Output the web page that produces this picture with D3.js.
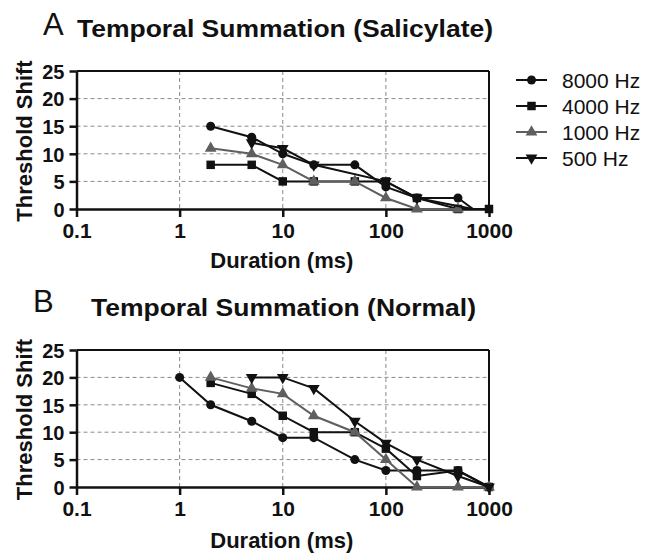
<!DOCTYPE html>
<html><head><meta charset="utf-8">
<script src="https://cdn.jsdelivr.net/npm/d3@7"></script>
<style>
html,body{margin:0;padding:0;background:#fff;}
text{font-family:"Liberation Sans",Arial,sans-serif;}
</style></head>
<body>
<svg id="c" width="648" height="554"></svg>
<script>
// ---------- data ----------
const seriesNames = ["8000 Hz", "4000 Hz", "1000 Hz", "500 Hz"];
const seriesShapes = ["circle", "square", "triangle", "triangleDown"];
const seriesColors = ["#111", "#111", "#5f5f5f", "#111"];

const xTicks = [0.1, 1, 10, 100, 1000];
const xTickLabels = ["0.1", "1", "10", "100", "1000"];
const yTicks = [0, 5, 10, 15, 20, 25];
const xGrid = [1, 10, 100];
const yGrid = [5, 10, 15, 20];

// Panel A: Salicylate  [duration ms, threshold shift]
const salicylate8000 = [[2,15],[5,13],[10,10],[20,8],[50,8],[100,4],[200,2],[500,2],[700,0]];
const salicylate4000 = [[2,8],[5,8],[10,5],[20,5],[50,5],[100,5],[200,2],[500,0],[1000,0]];
const salicylate1000 = [[2,11],[5,10],[10,8],[20,5],[50,5],[100,2],[200,0],[500,0]];
const salicylate500  = [[5,12],[10,11],[20,8],[100,5],[200,2],[700,0]];

// Panel B: Normal
const normal8000 = [[1,20],[2,15],[5,12],[10,9],[20,9],[50,5],[100,3],[200,3],[500,3],[1000,0]];
const normal4000 = [[2,19],[5,17],[10,13],[20,10],[50,10],[100,7],[200,2],[500,3],[1000,0]];
const normal1000 = [[2,20],[5,18],[10,17],[20,13],[50,10],[100,5],[200,0],[500,0],[1000,0]];
const normal500  = [[5,20],[10,20],[20,18],[50,12],[100,8],[200,5],[500,2],[1000,0]];

const noMarkerX = [700]; // line ends without a marker

const panels = [
  {letter:"A", title:"Temporal Summation (Salicylate)", series:[salicylate8000, salicylate4000, salicylate1000, salicylate500],
   top:71, bottom:209, letterX:43, letterY:35, titleX:77, titleY:37, titleW:416, xLabelY:268},
  {letter:"B", title:"Temporal Summation (Normal)", series:[normal8000, normal4000, normal1000, normal500],
   top:350, bottom:487, letterX:33, letterY:312, titleX:91, titleY:316, titleW:385, xLabelY:548}
];

// ---------- drawing ----------
const svg = d3.select("#c");
const left = 76.5, right = 489;
const x = d3.scaleLog().domain([0.1, 1000]).range([left, right]);

function symbolPath(shape) {
  if (shape === "circle") return d3.symbol(d3.symbolCircle, 64)();
  if (shape === "square") return d3.symbol(d3.symbolSquare, 72)();
  return d3.symbol(d3.symbolTriangle, 60)();
}
function symbolTransform(shape, px, py) {
  return shape === "triangleDown" ? `translate(${px},${py}) rotate(180)` : `translate(${px},${py})`;
}

panels.forEach(p => {
  const y = d3.scaleLinear().domain([0, 25]).range([p.bottom, p.top]);
  const g = svg.append("g");

  // letter + title
  g.append("text").attr("x", p.letterX).attr("y", p.letterY).text(p.letter)
    .attr("font-family", "Lato, 'Open Sans', sans-serif").attr("font-weight", 300)
    .attr("font-size", 31).attr("fill", "#111");
  g.append("text").attr("x", p.titleX).attr("y", p.titleY).text(p.title)
    .attr("font-weight", "bold").attr("font-size", 24).attr("fill", "#111")
    .attr("textLength", p.titleW).attr("lengthAdjust", "spacingAndGlyphs");

  // grid
  g.selectAll(".gx").data(xGrid).enter().append("line")
    .attr("x1", d => x(d)).attr("x2", d => x(d)).attr("y1", p.top).attr("y2", p.bottom)
    .attr("stroke", "#8a8a8a").attr("stroke-width", 1).attr("stroke-dasharray", "4,3");
  g.selectAll(".gy").data(yGrid).enter().append("line")
    .attr("x1", left).attr("x2", right).attr("y1", d => y(d)).attr("y2", d => y(d))
    .attr("stroke", "#8a8a8a").attr("stroke-width", 1).attr("stroke-dasharray", "4,3");

  // frame top/right
  g.append("line").attr("x1", left).attr("x2", right).attr("y1", p.top).attr("y2", p.top)
    .attr("stroke", "#111").attr("stroke-width", 2);
  g.append("line").attr("x1", right).attr("x2", right).attr("y1", p.top).attr("y2", p.bottom)
    .attr("stroke", "#111").attr("stroke-width", 2);

  // axes
  const xAxis = g.append("g").attr("transform", `translate(0,${p.bottom})`)
    .call(d3.axisBottom(x).tickValues(xTicks).tickFormat((d, i) => xTickLabels[i]).tickSize(8).tickSizeOuter(0));
  xAxis.select(".domain").attr("stroke", "#111").attr("stroke-width", 2.5);
  xAxis.selectAll(".tick line").attr("stroke", "#111").attr("stroke-width", 2.5);
  xAxis.selectAll(".tick text").attr("y", 29).attr("dy", 0)
    .attr("font-family", "'Liberation Sans', Arial, sans-serif")
    .attr("font-weight", "bold").attr("font-size", 21).attr("fill", "#111");

  const yAxis = g.append("g").attr("transform", `translate(${left},0)`)
    .call(d3.axisLeft(y).tickValues(yTicks).tickSize(7).tickPadding(5).tickSizeOuter(0));
  yAxis.select(".domain").attr("stroke", "#111").attr("stroke-width", 2.5);
  yAxis.selectAll(".tick line").attr("stroke", "#111").attr("stroke-width", 2.5);
  yAxis.selectAll(".tick text").attr("dy", "0.36em")
    .attr("font-family", "'Liberation Sans', Arial, sans-serif")
    .attr("font-weight", "bold").attr("font-size", 20).attr("fill", "#111");

  // axis titles
  g.append("text").attr("x", (left + right) / 2 - 1).attr("y", p.xLabelY).attr("text-anchor", "middle")
    .attr("font-weight", "bold").attr("font-size", 22).attr("fill", "#111").text("Duration (ms)");
  g.append("text").attr("transform", `translate(32,${(p.top + p.bottom) / 2 + 1}) rotate(-90)`)
    .attr("text-anchor", "middle").attr("font-weight", "bold").attr("font-size", 22).attr("fill", "#111")
    .text("Threshold Shift");

  // series
  const line = d3.line().x(d => x(d[0])).y(d => y(d[1]));
  p.series.forEach((data, si) => {
    const sg = g.append("g");
    sg.append("path").datum(data).attr("d", line).attr("fill", "none")
      .attr("stroke", seriesColors[si]).attr("stroke-width", 2);
    sg.selectAll("path.m").data(data.filter(d => !noMarkerX.includes(d[0]))).enter().append("path")
      .attr("class", "m").attr("d", symbolPath(seriesShapes[si]))
      .attr("transform", d => symbolTransform(seriesShapes[si], x(d[0]), y(d[1])))
      .attr("fill", seriesColors[si]);
  });
});

// legend
const legendY = [80, 106, 132, 158];
const lg = svg.append("g");
seriesNames.forEach((name, i) => {
  const yy = legendY[i];
  lg.append("line").attr("x1", 516).attr("x2", 547).attr("y1", yy).attr("y2", yy)
    .attr("stroke", seriesColors[i]).attr("stroke-width", 2);
  lg.append("path").attr("d", symbolPath(seriesShapes[i]))
    .attr("transform", symbolTransform(seriesShapes[i], 531.5, yy)).attr("fill", seriesColors[i]);
  lg.append("text").attr("x", 562).attr("y", yy).attr("dy", "0.36em")
    .attr("font-size", 21).attr("fill", "#111").text(name);
});
</script>
</body></html>
